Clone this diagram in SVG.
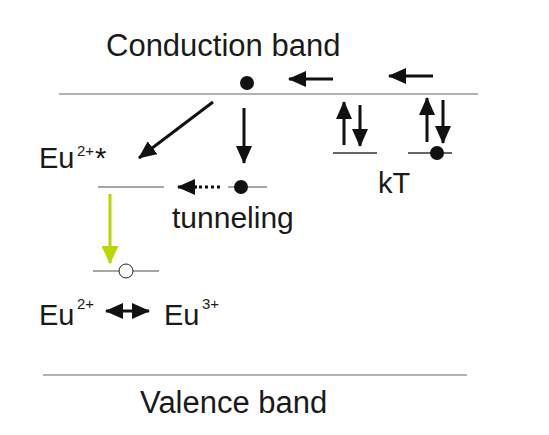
<svg xmlns="http://www.w3.org/2000/svg" width="549" height="435" viewBox="0 0 549 435">
<style>
text{font-family:"Liberation Sans",Arial,sans-serif;fill:#1a1a1a}
.big{font-size:31px}
.lab{font-size:29px}
.sup{font-size:15px}
.band{stroke:#9a9a9a;stroke-width:1.6;fill:none}
.lvl{stroke:#8a8a8a;stroke-width:1.3;fill:none}
.lvld{stroke:#333;stroke-width:1.3;fill:none}
.arr{stroke:#111;stroke-width:3;fill:none}
.garr{stroke:#bdd600;stroke-width:3;fill:none}
.dot{fill:#111}
</style>
<defs>
<marker id="ah" viewBox="0 0 18 16" refX="17" refY="8" markerWidth="18" markerHeight="16" markerUnits="userSpaceOnUse" orient="auto">
<path d="M0,0 L18,8 L0,16 Z" fill="#111"/>
</marker>
<marker id="ahs" viewBox="0 0 18 16" refX="1" refY="8" markerWidth="18" markerHeight="16" markerUnits="userSpaceOnUse" orient="auto">
<path d="M18,0 L0,8 L18,16 Z" fill="#111"/>
</marker>
<marker id="gah" viewBox="0 0 18 17" refX="17" refY="8.5" markerWidth="18" markerHeight="17" markerUnits="userSpaceOnUse" orient="auto">
<path d="M0,0 L18,8.5 L0,17 Z" fill="#bdd600"/>
</marker>
</defs>
<g id="conduction-band">
<line class="band" x1="59" y1="94" x2="478" y2="94"/>
<text class="big" x="106" y="56">Conduction band</text>
<circle class="dot" cx="247" cy="83" r="7"/>
</g>
<g id="valence-band">
<line class="band" x1="43" y1="375" x2="467" y2="375"/>
<text class="big" x="140" y="413">Valence band</text>
</g>
<g id="eu2-excited">
<line class="lvl" x1="98" y1="187" x2="164" y2="187"/>
<text class="lab" x="39" y="168">Eu</text>
<text class="sup" x="77" y="156">2+</text>
<text class="lab" x="95" y="168">*</text>
</g>
<g id="trap-tunneling">
<line class="lvl" x1="228" y1="187" x2="267" y2="187"/>
<circle class="dot" cx="241" cy="187" r="7"/>
<text class="lab" x="172" y="228" style="font-size:30px">tunneling</text>
</g>
<g id="trap-kt-1">
<line class="lvld" x1="333" y1="153" x2="377" y2="153"/>
</g>
<g id="trap-kt-2">
<line class="lvld" x1="408" y1="153" x2="452" y2="153"/>
<circle class="dot" cx="437" cy="153" r="7"/>
<text class="lab" x="378" y="193">kT</text>
</g>
<g id="eu2-ground">
<line class="lvl" x1="93" y1="271" x2="159" y2="271"/>
<circle cx="126" cy="271" r="7" fill="#fff" stroke="#222" stroke-width="1"/>
</g>
<g id="eu-states">
<text class="lab" x="39" y="325">Eu</text>
<text class="sup" x="77" y="309">2+</text>
<text class="lab" x="164" y="325">Eu</text>
<text class="sup" x="202" y="309">3+</text>
</g>
<g id="connectors">
<line class="arr" x1="333" y1="79" x2="289" y2="79" marker-end="url(#ah)"/>
<line class="arr" x1="433" y1="76" x2="389" y2="76" marker-end="url(#ah)"/>
<line class="arr" x1="213" y1="102" x2="139" y2="158" marker-end="url(#ah)"/>
<line class="arr" x1="244" y1="108" x2="244" y2="163" marker-end="url(#ah)"/>
<line class="arr" x1="344" y1="145" x2="344" y2="102" marker-end="url(#ah)"/>
<line class="arr" x1="360" y1="105" x2="360" y2="146" marker-end="url(#ah)"/>
<line class="arr" x1="427" y1="142" x2="427" y2="98" marker-end="url(#ah)"/>
<line class="arr" x1="443" y1="100" x2="443" y2="143" marker-end="url(#ah)"/>
<line class="arr" x1="220" y1="187" x2="195" y2="187" stroke-dasharray="3 3"/>
<line class="arr" x1="197" y1="187" x2="178" y2="187" marker-end="url(#ah)"/>
<line class="garr" x1="110" y1="194" x2="110" y2="263" marker-end="url(#gah)"/>
<line class="arr" x1="106" y1="311" x2="149" y2="311" marker-start="url(#ahs)" marker-end="url(#ah)"/>
</g>
</svg>
